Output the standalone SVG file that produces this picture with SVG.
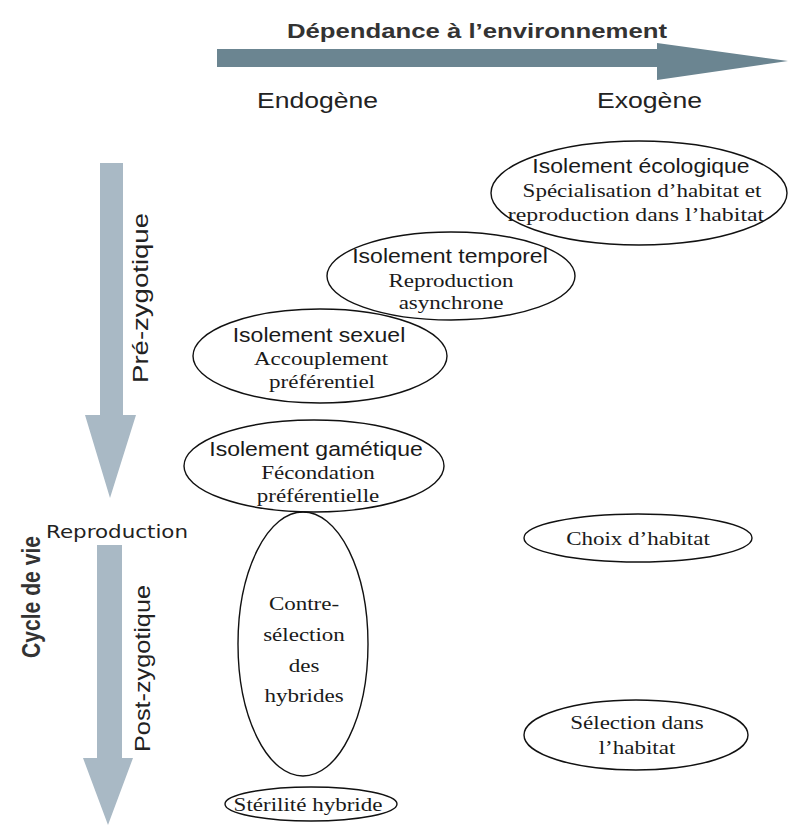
<svg xmlns="http://www.w3.org/2000/svg" width="790" height="828" viewBox="0 0 790 828">
<style>
.bg{fill:#ffffff}
.harrow{fill:#6b8591}
.varrow{fill:#a9b9c5}
.node ellipse{fill:none;stroke:#111;stroke-width:1.4}
.h{font-family:"Liberation Sans",Arial,sans-serif;font-size:19.5px;fill:#1a1a1a;text-anchor:middle}
.s{font-family:"Liberation Serif","Times New Roman",serif;font-size:19.5px;fill:#1a1a1a;text-anchor:middle}
.lab{font-family:"Liberation Sans",Arial,sans-serif;fill:#222}
.title{font-family:"Liberation Sans",Arial,sans-serif;font-weight:bold;fill:#333}
.rep{font-family:"DejaVu Sans",sans-serif;font-size:17px;fill:#222}
</style>
<rect class="bg" x="0" y="0" width="790" height="828"/>
<g id="connectors">
  <polygon class="harrow" points="217,49 657,49 657,43 788,61 657,80 657,67 217,67"/>
  <polygon class="varrow" points="100,163 123,163 123,415 136,415 110,498 85,415 100,415"/>
  <polygon class="varrow" points="97,545 122,545 122,758 133,758 108,825 83,758 97,758"/>
</g>
<g id="labels">
  <text class="title" style="font-size:21px" x="287" y="38" textLength="380" lengthAdjust="spacingAndGlyphs">Dépendance à l’environnement</text>
  <text class="lab" style="font-size:22px" x="257" y="108" textLength="121" lengthAdjust="spacingAndGlyphs">Endogène</text>
  <text class="lab" style="font-size:22px" x="597" y="108" textLength="105" lengthAdjust="spacingAndGlyphs">Exogène</text>
  <text class="lab" style="font-size:22.5px" transform="translate(148,383) rotate(-90)" textLength="170" lengthAdjust="spacingAndGlyphs">Pré-zygotique</text>
  <text class="lab" style="font-size:22.5px" transform="translate(150,752) rotate(-90)" textLength="167" lengthAdjust="spacingAndGlyphs">Post-zygotique</text>
  <text class="title" style="font-size:25px" transform="translate(40,658) rotate(-90)" textLength="122" lengthAdjust="spacingAndGlyphs">Cycle de vie</text>
  <text class="rep" x="46" y="538" textLength="142" lengthAdjust="spacingAndGlyphs">Reproduction</text>
</g>
<g id="n-ecologique" class="node">
  <ellipse cx="639" cy="193" rx="148" ry="52"/>
  <text class="h" transform="translate(641,173) scale(1.18,1)">Isolement écologique</text>
  <text class="s" transform="translate(642,197) scale(1.18,1)">Spécialisation d’habitat et</text>
  <text class="s" transform="translate(636,221) scale(1.22,1)">reproduction dans l’habitat</text>
</g>
<g id="n-temporel" class="node">
  <ellipse cx="451" cy="276" rx="124" ry="44"/>
  <text class="h" transform="translate(450,263) scale(1.18,1)">Isolement temporel</text>
  <text class="s" transform="translate(451,287) scale(1.18,1)">Reproduction</text>
  <text class="s" transform="translate(451,309) scale(1.18,1)">asynchrone</text>
</g>
<g id="n-sexuel" class="node">
  <ellipse cx="320" cy="356" rx="127" ry="47"/>
  <text class="h" transform="translate(319,342) scale(1.18,1)">Isolement sexuel</text>
  <text class="s" transform="translate(321,365) scale(1.18,1)">Accouplement</text>
  <text class="s" transform="translate(322,388) scale(1.18,1)">préférentiel</text>
</g>
<g id="n-gametique" class="node">
  <ellipse cx="314" cy="466" rx="130" ry="46"/>
  <text class="h" transform="translate(316,456) scale(1.18,1)">Isolement gamétique</text>
  <text class="s" transform="translate(318,479) scale(1.18,1)">Fécondation</text>
  <text class="s" transform="translate(318,502) scale(1.18,1)">préférentielle</text>
</g>
<g id="n-contre" class="node">
  <ellipse cx="303" cy="644" rx="65" ry="132"/>
  <text class="s" transform="translate(304,610) scale(1.18,1)">Contre-</text>
  <text class="s" transform="translate(304,641) scale(1.18,1)">sélection</text>
  <text class="s" transform="translate(304,672) scale(1.18,1)">des</text>
  <text class="s" transform="translate(304,702) scale(1.18,1)">hybrides</text>
</g>
<g id="n-sterilite" class="node">
  <ellipse cx="311" cy="804" rx="86" ry="17"/>
  <text class="s" transform="translate(308,811) scale(1.18,1)">Stérilité hybride</text>
</g>
<g id="n-choix" class="node">
  <ellipse cx="638" cy="538" rx="114" ry="24"/>
  <text class="s" transform="translate(638,545) scale(1.18,1)">Choix d’habitat</text>
</g>
<g id="n-selection" class="node">
  <ellipse cx="636" cy="735" rx="112" ry="35"/>
  <text class="s" transform="translate(637,729) scale(1.18,1)">Sélection dans</text>
  <text class="s" transform="translate(637,754) scale(1.18,1)">l’habitat</text>
</g>
</svg>
